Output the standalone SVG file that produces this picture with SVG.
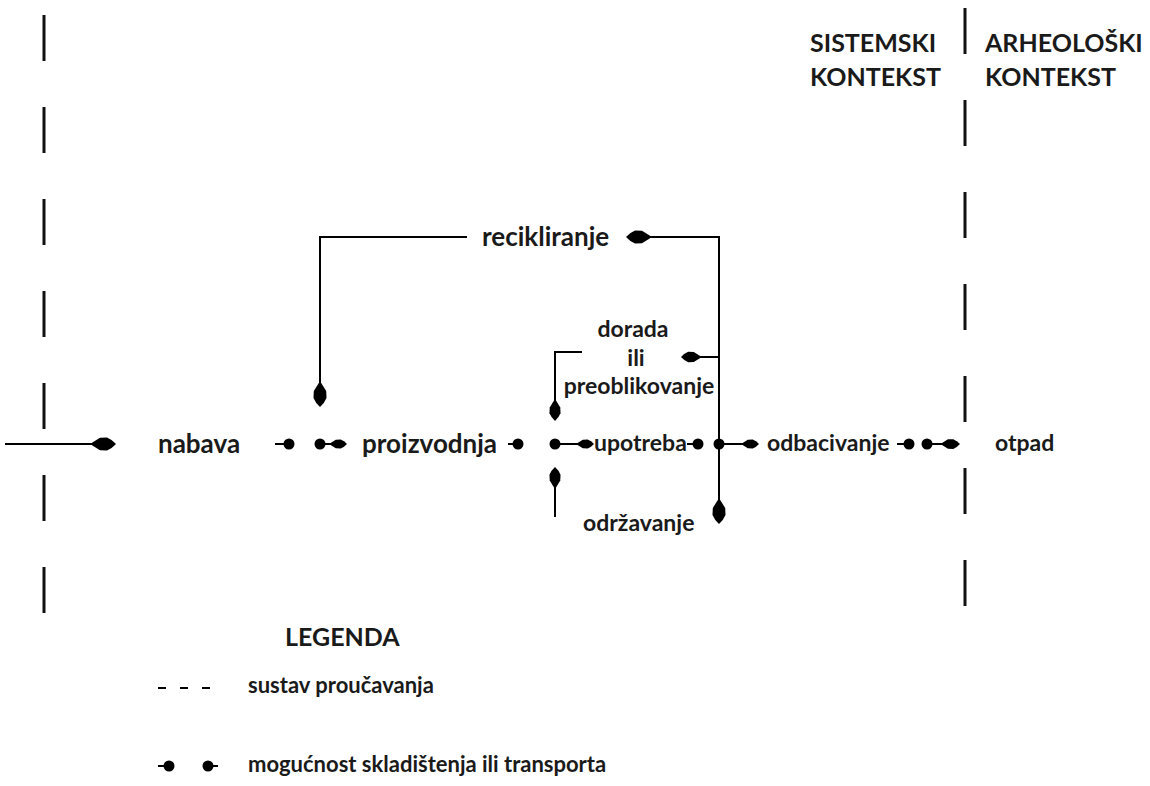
<svg xmlns="http://www.w3.org/2000/svg" xmlns:xlink="http://www.w3.org/1999/xlink" width="1150" height="786" viewBox="0 0 1150 786">
<defs>
<style>
.t{font-family:Lato,"Open Sans","Liberation Sans",sans-serif;font-weight:bold;fill:#1a1a1a}
.m{font-size:26px}
.s{font-size:23px}
.h{font-size:25px}
.g{font-size:22px}
.ln{stroke:#000;stroke-width:2;fill:none}
.dash{stroke:#111;stroke-width:3;fill:none;stroke-dasharray:46 46}
.dot{fill:#000}
</style>
<path id="ah" d="M0,0 Q-4,-4.5 -9,-6.5 L-16,-6.2 L-24,-1.2 L-24,1.2 L-16,6.2 L-9,6.5 Q-4,4.5 0,0 Z" fill="#000"/>
</defs>
<rect width="1150" height="786" fill="#fff"/>

<g id="boundaries">
<line class="dash" x1="44" y1="15" x2="44" y2="620"/>
<line class="dash" x1="965" y1="8" x2="965" y2="614"/>
</g>

<g id="connectors">
<line class="ln" x1="5" y1="444" x2="96" y2="444"/>
<use xlink:href="#ah" transform="translate(116,444)"/>
<line class="ln" x1="275" y1="444" x2="288" y2="444"/>
<circle class="dot" cx="289" cy="444" r="5.5"/>
<circle class="dot" cx="320" cy="444" r="5.5"/>
<line class="ln" x1="320" y1="444" x2="334" y2="444"/>
<use xlink:href="#ah" transform="translate(347,444) scale(0.7)"/>
<line class="ln" x1="508" y1="444" x2="518" y2="444"/>
<circle class="dot" cx="518" cy="444" r="5.5"/>
<circle class="dot" cx="555" cy="444" r="5.5"/>
<line class="ln" x1="555" y1="444" x2="580" y2="444"/>
<use xlink:href="#ah" transform="translate(594,444) scale(0.7)"/>
<line class="ln" x1="687" y1="444" x2="698" y2="444"/>
<circle class="dot" cx="698" cy="444" r="5.5"/>
<circle class="dot" cx="719" cy="444" r="5.5"/>
<line class="ln" x1="719" y1="444" x2="744" y2="444"/>
<use xlink:href="#ah" transform="translate(759,444) scale(0.7)"/>
<line class="ln" x1="897" y1="444" x2="909" y2="444"/>
<circle class="dot" cx="909" cy="444" r="5.5"/>
<circle class="dot" cx="927" cy="444" r="5.5"/>
<line class="ln" x1="927" y1="444" x2="943" y2="444"/>
<use xlink:href="#ah" transform="translate(960,444) scale(0.75)"/>
<polyline class="ln" points="648,237 719,237 719,506"/>
<use xlink:href="#ah" transform="translate(626,237) rotate(180)"/>
<use xlink:href="#ah" transform="translate(719,524) rotate(90)"/>
<polyline class="ln" points="467,237 320,237 320,390"/>
<use xlink:href="#ah" transform="translate(320,407) rotate(90)"/>
<line class="ln" x1="719" y1="357" x2="698" y2="357"/>
<use xlink:href="#ah" transform="translate(681,357) rotate(180) scale(0.8)"/>
<polyline class="ln" points="582,352 555,352 555,404"/>
<use xlink:href="#ah" transform="translate(555,421) rotate(90) scale(0.85)"/>
<line class="ln" x1="555" y1="517" x2="555" y2="484"/>
<use xlink:href="#ah" transform="translate(555,467) rotate(-90) scale(0.85)"/>
</g>

<g id="node-nabava"><text class="t m" x="158" y="453">nabava</text></g>
<g id="node-proizvodnja"><text class="t m" x="362" y="453">proizvodnja</text></g>
<g id="node-upotreba"><text class="t s" x="594" y="451">upotreba</text></g>
<g id="node-odbacivanje"><text class="t s" x="767" y="451">odbacivanje</text></g>
<g id="node-otpad"><text class="t s" x="995" y="451">otpad</text></g>
<g id="node-recikliranje"><text class="t m" x="482" y="246">recikliranje</text></g>
<g id="node-dorada">
<text class="t s" text-anchor="middle" x="633" y="337">dorada</text>
<text class="t s" text-anchor="middle" x="636" y="366">ili</text>
<text class="t s" text-anchor="middle" x="639" y="394">preoblikovanje</text>
</g>
<g id="node-odrzavanje"><text class="t s" x="583" y="531">održavanje</text></g>
<g id="label-sistemski">
<text class="t h" x="810" y="52">SISTEMSKI</text>
<text class="t h" x="810" y="86">KONTEKST</text>
</g>
<g id="label-arheoloski">
<text class="t h" x="985" y="52">ARHEOLOŠKI</text>
<text class="t h" x="985" y="86">KONTEKST</text>
</g>

<g id="legend">
<text class="t h" x="285" y="646">LEGENDA</text>
<line class="ln" x1="158" y1="688" x2="166" y2="688"/>
<line class="ln" x1="180" y1="688" x2="188" y2="688"/>
<line class="ln" x1="202" y1="688" x2="210" y2="688"/>
<text class="t g" x="248" y="693">sustav proučavanja</text>
<line class="ln" x1="158" y1="766" x2="168" y2="766"/>
<circle class="dot" cx="169" cy="766" r="5.5"/>
<circle class="dot" cx="208" cy="766" r="5.5"/>
<line class="ln" x1="208" y1="766" x2="218" y2="766"/>
<text class="t g" x="248" y="772">mogućnost skladištenja ili transporta</text>
</g>
</svg>
